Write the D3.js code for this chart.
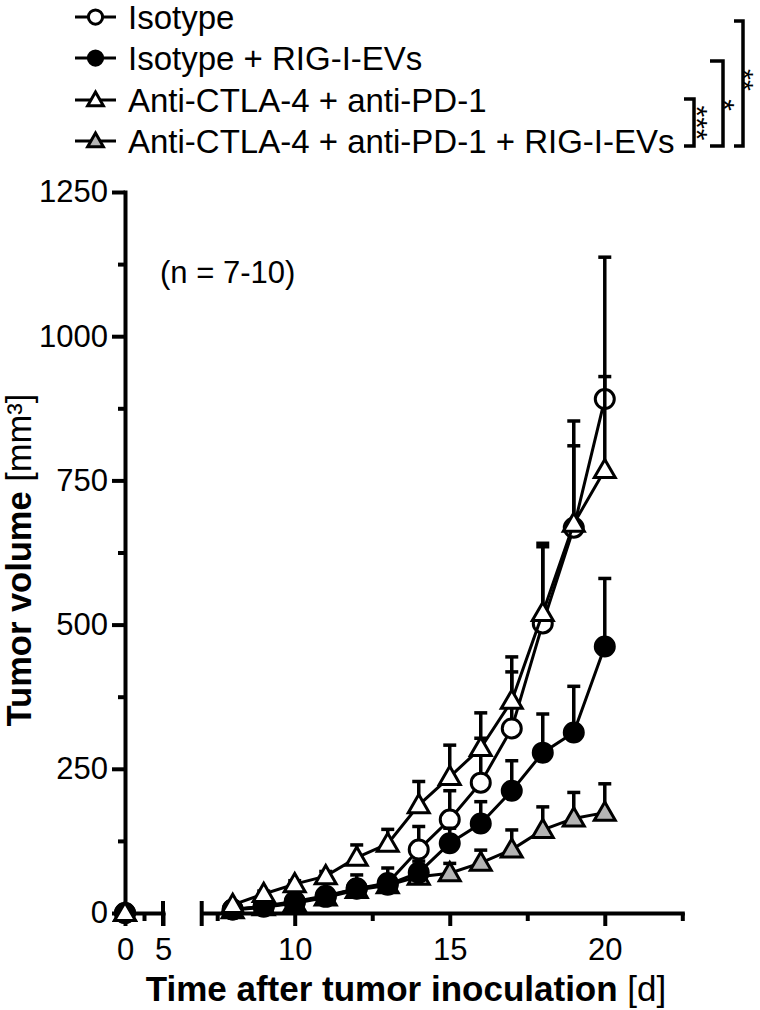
<!DOCTYPE html>
<html>
<head>
<meta charset="utf-8">
<script src="https://cdn.jsdelivr.net/npm/d3@7"></script>
<style>
  html, body { margin: 0; padding: 0; background: #fff; }
  svg { display: block; font-family: "Liberation Sans", Arial, Helvetica, sans-serif; }
</style>
</head>
<body>
<svg id="chart" width="760" height="1010"></svg>
<script>
// Days after inoculation (day 0 sits on the short axis segment before the break)
const days = [0, 8, 9, 10, 11, 12, 13, 14, 15, 16, 17, 18, 19, 20];

// Mean tumor volume (mm³) and SEM per group
const isotype        = [0, 6, 12, 20, 30, 42, 52, 110, 162, 226, 320, 502, 668, 891];
const isotypeSem     = [0, 3, 4, 5, 7, 9, 11, 40, 50, 77, 98, 133, 185, 246];
const isotypeEv      = [0, 6, 11, 18, 28, 43, 49, 70, 121, 155, 212, 278, 313, 462];
const isotypeEvSem   = [0, 3, 4, 5, 7, 23, 29, 20, 26, 38, 52, 67, 80, 118];
const combo          = [0, 14, 33, 50, 64, 96, 120, 187, 236, 286, 368, 520, 675, 768];
const comboSem       = [0, 4, 5, 6, 8, 22, 25, 41, 55, 61, 76, 121, 135, 162];
const comboEv        = [0, 5, 10, 17, 27, 40, 48, 63, 69, 87, 110, 144, 164, 174];
const comboEvSem     = [0, 2, 3, 5, 6, 9, 11, 14, 17, 22, 34, 40, 45, 50];

const groupNames = [
  "Isotype",
  "Isotype + RIG-I-EVs",
  "Anti-CTLA-4 + anti-PD-1",
  "Anti-CTLA-4 + anti-PD-1 + RIG-I-EVs"
];

// Axis ticks
const yMajorTicks = [0, 250, 500, 750, 1000, 1250];
const yMinorTicks = [125, 375, 625, 875, 1125];
const xEarlyTicks = [0, 5];
const xEarlyMinor = [2.5];
const xLateTicks  = [10, 15, 20];
const xLateMinor  = [7.5, 12.5, 17.5, 22.5];

// Significance brackets: [upper group index, lower group index, label]
const brackets = [
  [2, 3, "***"],
  [1, 3, "*"],
  [0, 3, "**"]
];

const svg = d3.select("#chart");
const INK = "#000";
const GRAY = "#b4b4b4";

// Scales: y linear, x split into two segments around the axis break
const y = d3.scaleLinear().domain([0, 1250]).range([913, 192]);
const xEarly = d3.scaleLinear().domain([0, 5]).range([125, 163]);
const xLate  = d3.scaleLinear().domain([7, 22.5]).range([201.7, 682.3]);
const xPos = d => (d <= 5 ? xEarly(d) : xLate(d));

const series = [
  { name: groupNames[0], values: isotype,   sem: isotypeSem,   shape: "circle",   fill: "#fff" },
  { name: groupNames[3], values: comboEv,   sem: comboEvSem,   shape: "triangle", fill: GRAY },
  { name: groupNames[1], values: isotypeEv, sem: isotypeEvSem, shape: "circle",   fill: INK },
  { name: groupNames[2], values: combo,     sem: comboSem,     shape: "triangle", fill: "#fff" }
];

function styleAxis(g, fontSize) {
  g.selectAll(".domain").attr("stroke", INK).attr("stroke-width", 4).attr("stroke-linecap", "square");
  g.selectAll(".tick line").attr("stroke", INK).attr("stroke-width", 4);
  g.selectAll(".tick text").attr("fill", INK).attr("font-size", fontSize)
    .attr("font-family", "'Liberation Sans', Arial, sans-serif");
}

const intFmt = d3.format("d");

// ---- Y axis ----
const gy = svg.append("g").attr("transform", "translate(125,0)")
  .call(d3.axisLeft(y).tickValues(yMajorTicks).tickSize(13).tickSizeOuter(0)
    .tickPadding(4).tickFormat(intFmt));
styleAxis(gy, 31);
const gyMinor = svg.append("g").attr("transform", "translate(125,0)")
  .call(d3.axisLeft(y).tickValues(yMinorTicks).tickSize(7).tickSizeOuter(0).tickFormat(""));
gyMinor.select(".domain").remove();
styleAxis(gyMinor, 31);

// ---- X axis (two segments) ----
const gxA = svg.append("g").attr("transform", "translate(0,913)")
  .call(d3.axisBottom(xEarly).tickValues(xEarlyTicks).tickSize(13).tickSizeOuter(0)
    .tickPadding(12).tickFormat(intFmt));
styleAxis(gxA, 31);
const gxAm = svg.append("g").attr("transform", "translate(0,913)")
  .call(d3.axisBottom(xEarly).tickValues(xEarlyMinor).tickSize(8).tickSizeOuter(0).tickFormat(""));
gxAm.select(".domain").remove();
styleAxis(gxAm, 31);

const gxB = svg.append("g").attr("transform", "translate(0,913)")
  .call(d3.axisBottom(xLate).tickValues(xLateTicks).tickSize(13).tickSizeOuter(0)
    .tickPadding(12).tickFormat(intFmt));
styleAxis(gxB, 31);
const gxBm = svg.append("g").attr("transform", "translate(0,913)")
  .call(d3.axisBottom(xLate).tickValues(xLateMinor).tickSize(8).tickSizeOuter(0).tickFormat(""));
gxBm.select(".domain").remove();
styleAxis(gxBm, 31);

// Break caps at the segment ends
[xEarly(5), xLate(7)].forEach(xc => {
  svg.append("line").attr("x1", xc).attr("x2", xc).attr("y1", 901).attr("y2", 926)
    .attr("stroke", INK).attr("stroke-width", 4);
});

// ---- Axis titles ----
const xTitle = svg.append("text").attr("x", 406).attr("y", 1001)
  .attr("text-anchor", "middle").attr("font-size", 35).attr("fill", INK);
xTitle.append("tspan").attr("font-weight", "bold").text("Time after tumor inoculation");
xTitle.append("tspan").text(" [d]");

const yTitle = svg.append("text").attr("transform", "translate(31,560) rotate(-90)")
  .attr("text-anchor", "middle").attr("font-size", 34.5).attr("fill", INK);
yTitle.append("tspan").attr("font-weight", "bold").text("Tumor volume");
yTitle.append("tspan").text(" [mm³]");

svg.append("text").attr("x", 160).attr("y", 283).attr("font-size", 31).attr("fill", INK)
  .text("(n = 7-10)");

// ---- Markers ----
function drawMarker(g, shape, fill, cx, cy, scale) {
  if (shape === "circle") {
    g.append("circle").attr("cx", cx).attr("cy", cy).attr("r", 9.5 * scale)
      .attr("fill", fill).attr("stroke", INK).attr("stroke-width", 3);
  } else {
    g.append("path").attr("transform", `translate(${cx},${cy + 1.5 * scale})`)
      .attr("d", d3.symbol(d3.symbolTriangle, 190 * scale * scale)())
      .attr("fill", fill).attr("stroke", INK).attr("stroke-width", 3)
      .attr("stroke-linejoin", "miter");
  }
}

// ---- Data series ----
const plot = svg.append("g");
const line = d3.line().x(d => xPos(d.day)).y(d => y(d.v));

series.forEach(s => {
  const pts = days.map((d, i) => ({ day: d, v: s.values[i], e: s.sem[i] }));
  const g = plot.append("g");
  // connecting line only across the continuous segment after the break
  g.append("path").datum(pts.filter(p => p.day > 5)).attr("d", line)
    .attr("fill", "none").attr("stroke", INK).attr("stroke-width", 3);
  // upward SEM bars
  pts.filter(p => p.e > 0).forEach(p => {
    const cx = xPos(p.day), top = y(p.v + p.e);
    g.append("line").attr("x1", cx).attr("x2", cx).attr("y1", y(p.v)).attr("y2", top)
      .attr("stroke", INK).attr("stroke-width", 3.5);
    g.append("line").attr("x1", cx - 6.5).attr("x2", cx + 6.5).attr("y1", top).attr("y2", top)
      .attr("stroke", INK).attr("stroke-width", 3.5);
  });
  pts.forEach(p => drawMarker(g, s.shape, s.fill, xPos(p.day), y(p.v), 1));
});

// ---- Legend ----
const legendRows = [17, 58, 100, 141];
const legendStyle = [
  { shape: "circle", fill: "#fff" },
  { shape: "circle", fill: INK },
  { shape: "triangle", fill: "#fff" },
  { shape: "triangle", fill: GRAY }
];
const legend = svg.append("g");
groupNames.forEach((name, i) => {
  const cy = legendRows[i];
  legend.append("line").attr("x1", 75).attr("x2", 116).attr("y1", cy).attr("y2", cy)
    .attr("stroke", INK).attr("stroke-width", 3);
  drawMarker(legend, legendStyle[i].shape, legendStyle[i].fill, 95.5, cy, 0.75);
  legend.append("text").attr("x", 128).attr("y", cy + 12).attr("font-size", 33)
    .attr("fill", INK).text(name);
});

// ---- Significance brackets ----
const bracketTops = [99, 61, 21];
const bracketBottom = 146;
const bracketX = [[684, 694], [710, 723], [734, 743]];
const starY = [123, 105, 80];
const starBase = [687, 714, 733.5];
const starSize = [30, 30, 28];
brackets.forEach((b, i) => {
  const [x0, x1] = bracketX[i];
  const top = bracketTops[i];
  legend.append("path")
    .attr("d", `M${x0},${top}H${x1}V${bracketBottom}H${x0}`)
    .attr("fill", "none").attr("stroke", INK).attr("stroke-width", 3.5);
  legend.append("text")
    .attr("transform", `translate(${starBase[i]},${starY[i]}) rotate(90)`)
    .attr("text-anchor", "middle").attr("font-size", starSize[i]).attr("fill", INK)
    .text(b[2]);
});
</script>
</body>
</html>
